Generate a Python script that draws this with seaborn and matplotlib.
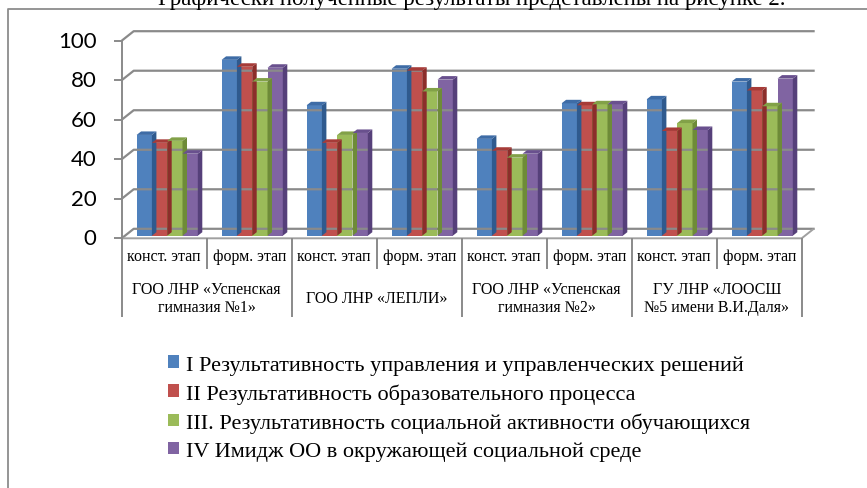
import matplotlib
matplotlib.use('Agg')
import matplotlib.pyplot as plt
import matplotlib.colors as mcolors
from matplotlib.lines import Line2D
from matplotlib.patches import Polygon, Patch
from matplotlib.transforms import ScaledTranslation
import pandas as pd
import seaborn as sns

plt.rcParams['font.family'] = ['Liberation Serif', 'DejaVu Serif']

# data
schools = ['ГОО ЛНР «Успенская\nгимназия №1»', 'ГОО ЛНР «ЛЕПЛИ»',
           'ГОО ЛНР «Успенская\nгимназия №2»', 'ГУ ЛНР «ЛООСШ\n№5 имени В.И.Даля»']
stages = ['конст. этап', 'форм. этап']
series = ['I Результативность управления и управленческих решений',
          'II Результативность образовательного процесса',
          'III. Результативность социальной активности обучающихся',
          'IV Имидж ОО в окружающей социальной среде']
vals_1 = [51, 89, 66, 84.5, 49, 67, 69, 78]
vals_2 = [47, 85.5, 47, 83.5, 43, 66, 53, 73.5]
vals_3 = [48, 78, 51, 73, 39.5, 66.5, 57, 65.5]
vals_4 = [41.5, 85, 52, 79, 41.5, 66.5, 53.5, 79.5]
y_ticks = [0, 20, 40, 60, 80, 100]

front = ['#4F81BD', '#C0504D', '#9BBB59', '#8064A2']
side = ['#2F5A8E', '#8C2E2B', '#6E8B38', '#56407A']
top = ['#3E6CA6', '#A63B38', '#82A148', '#69508E']

cats = [f'{s}|{st}' for s in schools for st in stages]
rows = []
for name, vals in zip(series, [vals_1, vals_2, vals_3, vals_4]):
    for c, v in zip(cats, vals):
        rows.append({'cat': c, 'series': name, 'value': v})
df = pd.DataFrame(rows)

W, H = 867, 489
fig = plt.figure(figsize=(W / 100, H / 100), dpi=100)
ax = fig.add_axes([121.7 / W, 1 - 239.3 / H, 680 / W, (239.3 - 41.7) / H])

sns.barplot(data=df, x='cat', y='value', hue='series', order=cats, hue_order=series,
            palette=front, width=0.72, saturation=1, legend=False, ax=ax,
            edgecolor='none', linewidth=0, zorder=3)
ax.set_xlim(-0.5, 7.5)
ax.set_ylim(0, 100)
ax.set_xticks([])
ax.set_yticks([])
ax.set_xlabel('')
ax.set_ylabel('')
ax.patch.set_alpha(0)
for sp in ax.spines.values():
    sp.set_visible(False)

GRID = '#8a8a8a'
BACK = (12, 9.5)     # depth of the 3d box, px
BAR_OFF = (3, 2.6)   # bars sit a little inside the box
DEPTH = (4.5, 3.5)   # depth of a single bar


def px(x, y):
    return ax.transData.transform((x, y))


def line(pts, **kw):
    fig.add_artist(Line2D([p[0] / W for p in pts], [p[1] / H for p in pts],
                          transform=fig.transFigure, solid_capstyle='butt', **kw))


def poly(pts, color, z):
    fig.add_artist(Polygon([(p[0] / W, p[1] / H) for p in pts], closed=True,
                           transform=fig.transFigure, facecolor=color,
                           edgecolor='none', zorder=z))


# back wall grid + left wall diagonals
for v in y_ticks:
    fx, fy = px(-0.5, v)
    ex, ey = px(7.5, v)
    line([(fx, fy), (fx + BACK[0], fy + BACK[1]), (ex + BACK[0] + 1, ey + BACK[1])],
         color=GRID, lw=1.6, zorder=1)
# floor
x0, y0 = px(-0.5, 0)
x1, _ = px(7.5, 0)
line([(x0, y0), (x1, y0), (x1 + BACK[0], y0 + BACK[1])], color='#a0a0a0', lw=1.4, zorder=1)

# bars: shift fronts and add side / top faces
shift = ScaledTranslation(BAR_OFF[0] / 100, BAR_OFF[1] / 100, fig.dpi_scale_trans)
face_idx = {mcolors.to_hex(c): i for i, c in enumerate(front)}
for p in ax.patches:
    i = face_idx[mcolors.to_hex(p.get_facecolor())]
    p.set_transform(ax.transData + shift)
    bx0, by0 = px(p.get_x(), 0)
    bx1, by1 = px(p.get_x() + p.get_width(), p.get_height())
    bx0 += BAR_OFF[0]; bx1 += BAR_OFF[0]
    by0 += BAR_OFF[1]; by1 += BAR_OFF[1]
    dx, dy = DEPTH
    poly([(bx1, by0), (bx1, by1), (bx1 + dx, by1 + dy), (bx1 + dx, by0 + dy)], side[i], 2)
    poly([(bx0, by1), (bx1, by1), (bx1 + dx, by1 + dy), (bx0 + dx, by1 + dy)], top[i], 2)

# value axis
line([px(-0.5, 0), px(-0.5, 100)], color=GRID, lw=1.4, zorder=1)
for v in y_ticks:
    tx, ty = px(-0.5, v)
    line([(tx - 8, ty), (tx, ty)], color=GRID, lw=1.4, zorder=1)
    fig.text((tx - 25) / W, ty / H, str(v), ha='right', va='center',
             fontsize=16, family=['Lato', 'DejaVu Sans'])

# category axis
for k in range(9):
    cx, cy = px(k - 0.5, 0)
    length = 79 if k % 2 == 0 else 31
    line([(cx, cy), (cx, cy - length)], color=GRID, lw=1.4, zorder=1)
for k, c in enumerate(cats):
    cx, cy = px(k, 0)
    fig.text(cx / W, (cy - 18) / H, c.split('|')[1], ha='center', va='center', fontsize=11.5)
for g, s in enumerate(schools):
    cx, cy = px(2 * g + 0.5, 0)
    fig.text(cx / W, (cy - 60) / H, s, ha='center', va='center', fontsize=11.5,
             linespacing=1.2)

# legend
handles = [Patch(facecolor=c, edgecolor='none') for c in front]
fig.legend(handles, series, loc='upper left', bbox_to_anchor=(168 / W, 1 - 356 / H),
           frameon=False, fontsize=16, handlelength=0.5, handleheight=0.5,
           handletextpad=0.3, labelspacing=0.39, borderaxespad=0, borderpad=0)

# chart frame and the text line cut off above it
line([(8, 0), (8, H - 10), (W, H - 10)], color='#8c8c8c', lw=1.3, zorder=1)
fig.text(472 / W, 1 - 5 / H, 'Графически полученные результаты представлены на рисунке 2.',
         ha='center', va='baseline', fontsize=16.5)

fig.savefig('out.png', dpi=100)
